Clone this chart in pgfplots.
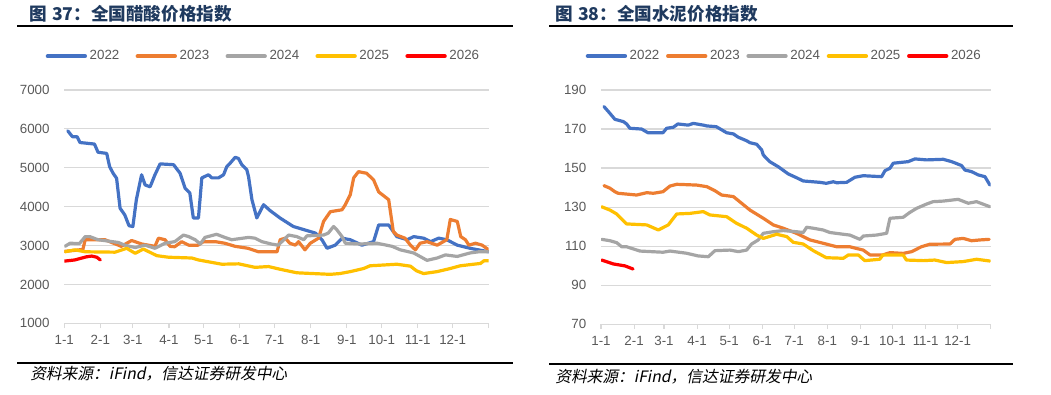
\documentclass[border=0pt]{standalone}
\usepackage{fontspec}
\setmainfont{Liberation Sans}
\newfontfamily\cjk{Noto Sans CJK SC}
\newfontfamily\cjkit[FakeSlant=0.2]{Noto Sans CJK SC}
\usepackage{pgfplots}
\pgfplotsset{compat=1.18}
\definecolor{c22}{HTML}{4472C4}
\definecolor{c23}{HTML}{ED7D31}
\definecolor{c24}{HTML}{A5A5A5}
\definecolor{c25}{HTML}{FFC000}
\definecolor{c26}{HTML}{FF0000}
\definecolor{gridc}{HTML}{D9D9D9}
\definecolor{labc}{HTML}{595959}
\definecolor{titc}{HTML}{1F3A5F}
\pgfplotsset{
  myax/.style={
    scale only axis,
    xmin=0, xmax=365,
    axis x line*=bottom, axis y line*=left,
    y axis line style={draw=none},
    x axis line style={draw=gridc, line width=0.9pt},
    ytick style={draw=none},
    xtick style={draw=gridc, line width=0.9pt},
    tick align=outside, major tick length=3.5pt,
    ymajorgrids, grid style={draw=gridc, line width=0.9pt},
    xtick={0,31,59,90,120,151,181,212,243,273,304,334,365},
    xticklabels={1-1,2-1,3-1,4-1,5-1,6-1,7-1,8-1,9-1,10-1,11-1,12-1,{}},
    tick label style={font=\fontsize{10}{12}\selectfont, text=labc},
    /pgf/number format/assume math mode=true,
    /pgf/number format/1000 sep={},
    xticklabel style={yshift=-2pt},
    yticklabel style={xshift=-4pt},
    every axis plot/.append style={line width=2.4pt, line cap=round, line join=round, mark=none},
    legend columns=5,
    legend cell align=left,
    legend image code/.code={\draw[#1, line width=3pt, line cap=round] (0pt,0pt) -- (28pt,0pt);},
    legend style={draw=none, fill=none, anchor=center, font=\fontsize{10}{12}\selectfont, text=labc,
      inner sep=0pt},
  }
}
\begin{document}
\begin{tikzpicture}[x=0.75pt, y=0.75pt]
\path[use as bounding box] (0,0) rectangle (1051,394);
% ---------------- left: acetic acid
\begin{axis}[myax, at={(48.2pt,53.0pt)}, anchor=south west,
  width=318.3pt, height=175pt, ymin=1000, ymax=7000, ytick={1000,2000,...,7000},
  legend style={at={(0.470,1.145)}, /tikz/every even column/.append style={column sep=10.2pt}}]
\addplot[c22] coordinates {(3,5950)(7,5800)(11,5800)(13.5,5650)(26,5610)(29,5400)(36.5,5370)(39,5030)(42,4860)(45,4730)(48,3960)(52,3790)(55.7,3510)(59,3490)(62,4180)(66.5,4820)(69.5,4560)(73.8,4510)(78,4820)(82.4,5100)(94,5080)(99.6,4860)(104,4470)(108,4350)(111,3710)(115.4,3710)(118.3,4740)(124,4820)(127,4740)(132.6,4740)(137,4820)(139.8,5030)(142.7,5120)(147,5270)(149.8,5240)(152.7,5080)(157,4950)(158.5,4770)(161.4,4180)(165.6,3710)(171.4,4050)(177,3900)(185.5,3710)(197,3490)(211.6,3360)(216,3320)(221.6,3150)(226,2930)(233,3010)(239,3190)(246,3150)(256,3010)(266,3100)(270.4,3530)(279,3530)(286,3230)(295,3150)(300.5,3230)(309,3190)(315,3100)(322,3190)(329,3150)(338,3010)(349,2930)(365,2840)};
\addlegendentry{2022}
\addplot[c23] coordinates {(0,2850)(10,2880)(16,2900)(18,3150)(35,3150)(49,2980)(58,3130)(66.6,3040)(78,2980)(81,3190)(86.7,3150)(91,2980)(95,2970)(101,3100)(107,3010)(115,3010)(119.7,3100)(130,3100)(138,3060)(147,2980)(158,2930)(167,2840)(183,2840)(185.7,3150)(190,3190)(194,3060)(198.7,3010)(201.5,3100)(207,2890)(211.6,3060)(218.7,3190)(223,3620)(228.8,3870)(238.9,3920)(241.7,4050)(246,4310)(248.9,4740)(253,4900)(260,4860)(266,4690)(270.4,4380)(279,4180)(283,3360)(286,3270)(293,3190)(297.7,3010)(302,2890)(306,3060)(312,3100)(320.7,3010)(329,3150)(332,3670)(338,3620)(341,3230)(345,3150)(348,3010)(353.7,3060)(359.4,3010)(365,2890)};
\addlegendentry{2023}
\addplot[c24] coordinates {(0.6,2980)(5,3060)(13,3050)(18,3230)(22,3230)(29,3150)(46.5,3080)(52,3010)(61,2950)(69.5,3010)(78,2930)(86.7,3060)(95,3100)(102.5,3270)(107,3230)(112.6,3150)(117,3040)(121,3210)(131,3290)(138,3210)(144,3150)(158.5,3210)(164,3190)(170,3100)(178,3040)(184,3010)(193,3270)(200,3230)(206,3150)(208.7,3250)(223,3270)(227,3320)(231.6,3490)(234.6,3400)(238.9,3230)(241.7,3060)(254.6,3040)(269,3060)(282,2980)(289,2890)(300.5,2810)(312,2620)(320.7,2680)(327.8,2760)(338,2720)(349,2810)(356.5,2840)(365,2840)};
\addlegendentry{2024}
\addplot[c25] coordinates {(0.6,2840)(9,2890)(18,2840)(43.7,2830)(53.7,2930)(61,2800)(68,2910)(79.6,2740)(89.6,2700)(109.7,2680)(115.4,2630)(135.5,2520)(150,2530)(164,2440)(175.7,2460)(185.7,2390)(200,2300)(214,2280)(228.8,2260)(237,2280)(246,2330)(257.5,2410)(263,2480)(274.7,2500)(286,2520)(297.7,2470)(303,2350)(309,2280)(320.7,2330)(332,2410)(340.6,2480)(352,2520)(358,2540)(361,2610)(365,2610)};
\addlegendentry{2025}
\addplot[c26] coordinates {(0,2600)(9,2630)(19,2710)(23.6,2730)(28,2700)(31,2630)};
\addlegendentry{2026}
\end{axis}
% ---------------- right: cement
\begin{axis}[myax, at={(450.75pt,52.3pt)}, anchor=south west,
  width=292.3pt, height=175.7pt, ymin=70, ymax=190, ytick={70,90,...,190},
  legend style={at={(0.471,1.145)}, /tikz/every even column/.append style={column sep=3pt}}]
\addplot[c22] coordinates {(2.8,181.5)(8.4,178)(13,175)(21,173.8)(24,172.6)(27,170.4)(38,170)(44,168.1)(58,168.1)(61.5,170.4)(67.7,170.9)(72,172.6)(81.7,172)(86.4,172.9)(96,172)(99,171.6)(108,171.2)(117.7,168.1)(124,167.5)(128.6,165.8)(136.4,164)(139.5,163)(145.8,162.2)(150.5,159.3)(152,156.7)(158,153.3)(166,150.7)(175.4,147)(183,145.1)(189.4,143.4)(205,142.7)(211,142.2)(217.5,143)(220.7,142.5)(230,142.7)(237.8,145.3)(245.6,146.1)(262.8,145.6)(266,148.7)(270.6,149.9)(273.7,152.5)(287.7,153.3)(294,154.7)(305,154.2)(320.5,154.5)(328.4,153.3)(337.7,151.3)(340.8,149)(347,148.2)(353.3,146.5)(359.6,145.6)(364.2,141.3)};
\addlegendentry{2022}
\addplot[c23] coordinates {(2.8,141)(8.4,139.7)(13,137.9)(16,137.1)(33.4,136.2)(42.8,137.4)(49,137.1)(58,137.9)(64.6,140.8)(70.9,141.7)(89.6,141.3)(99,140.5)(106.7,138.4)(113,136.2)(124,135.4)(139.5,128.5)(152,124.3)(161.3,120.9)(170.7,119.2)(183,116.6)(195.7,113.2)(208,111.5)(220.7,109.7)(233,109.7)(245.6,108)(252,105.5)(264,105.5)(270.6,106.7)(283,106.3)(291,107.2)(300,109.7)(308,111)(326.8,111.1)(331.5,113.5)(339.2,114)(347,112.8)(355,113.2)(363.6,113.5)};
\addlegendentry{2023}
\addplot[c24] coordinates {(0.6,113.5)(8.4,112.8)(14.7,111.8)(19.4,109.7)(24,109.7)(36.5,107.5)(58,106.9)(64.6,107.5)(80,106.4)(91,105)(100.5,104.6)(106.7,107.7)(120.8,108)(128.6,107.2)(136.4,108)(141,111.1)(147.3,113.2)(152,116.6)(161.3,117.4)(170.7,118)(183,117.4)(189.4,117)(192.6,119.7)(198.8,119.2)(208,118.3)(214.4,117)(227,116.1)(233,115.7)(242.5,113.5)(245.6,115.2)(258,115.7)(267.5,116.6)(270.6,124.3)(283,124.8)(289,127.2)(295.6,129.4)(305,131.6)(311,132.8)(320.5,133.1)(334.5,134)(343.9,132)(351.7,132.8)(358,131.5)(364.2,130.2)};
\addlegendentry{2024}
\addplot[c25] coordinates {(0.6,130.2)(8.4,128.5)(14.7,126.5)(24,121.4)(42.8,120.9)(53.7,118.3)(63,120.9)(70.9,126.5)(83.3,126.8)(95.8,127.7)(102,126)(117.7,125.1)(127,121.7)(136.4,119.2)(145.8,115.7)(152,114)(164.5,116.1)(174,114.9)(180,112)(189.4,111.1)(198.8,107.7)(211,104.1)(227,103.8)(231.6,105.5)(241,105.5)(247,102.6)(261,103.3)(264,105.5)(283,105.5)(286,102.9)(301.8,102.6)(312.7,102.9)(323.7,101.6)(339.2,102.1)(351.7,103.3)(364.2,102.4)};
\addlegendentry{2025}
\addplot[c26] coordinates {(0.6,102.9)(11.5,100.9)(22.5,99.9)(30,98.3)};
\addlegendentry{2026}
\end{axis}
% ---------------- titles, rules, sources
\node[anchor=west, inner sep=0pt, text=titc, font=\cjk\bfseries\fontsize{13.2}{15}\selectfont] at (29,380) {图\hspace{0.3em}37：全国醋酸价格指数};
\node[anchor=west, inner sep=0pt, text=titc, font=\cjk\bfseries\fontsize{13.2}{15}\selectfont] at (555,380) {图\hspace{0.3em}38：全国水泥价格指数};
\draw[line width=1.6pt] (17,368) -- (513,368);
\draw[line width=1.6pt] (549,368) -- (1013,368);
\draw[line width=1.6pt] (17,31.3) -- (513,31.3);
\draw[line width=1.6pt] (549,29.7) -- (1013,29.7);
\node[anchor=west, inner sep=0pt, font=\fontsize{11.8}{13}\selectfont] at (30,20) {\cjkit 资料来源：\itshape iFind\cjkit ，信达证券研发中心};
\node[anchor=west, inner sep=0pt, font=\fontsize{11.8}{13}\selectfont] at (555,17) {\cjkit 资料来源：\itshape iFind\cjkit ，信达证券研发中心};
\end{tikzpicture}
\end{document}
